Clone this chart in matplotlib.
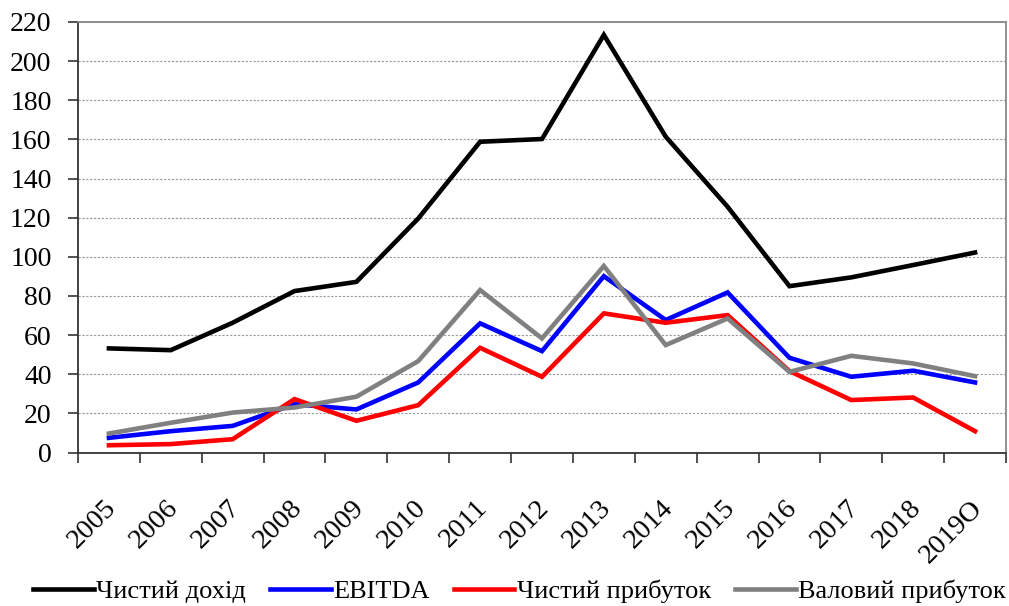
import numpy as np
import matplotlib
matplotlib.use("Agg")
import matplotlib.pyplot as plt
import matplotlib.transforms as mtransforms

years = ["2005", "2006", "2007", "2008", "2009", "2010", "2011", "2012",
         "2013", "2014", "2015", "2016", "2017", "2018", "2019О"]

net_income = [53.2, 52.3, 66.3, 82.5, 87.2, 119.6, 158.8, 160.2,
              213.4, 161.4, 125.6, 85.0, 89.5, 95.8, 102.2]
ebitda = [7.5, 10.9, 13.6, 24.7, 22.0, 35.8, 66.0, 51.8,
          90.1, 67.7, 81.8, 48.4, 38.7, 41.8, 35.8]
net_profit = [3.7, 4.3, 6.8, 27.3, 16.2, 24.2, 53.5, 38.7,
              71.1, 66.3, 70.2, 41.6, 26.8, 28.1, 10.9]
gross_profit = [9.7, 15.2, 20.4, 23.0, 28.5, 46.7, 83.0, 58.3,
                95.3, 54.9, 68.5, 41.2, 49.4, 45.5, 39.0]

labels = ["Чистий дохід", "EBITDA", "Чистий прибуток", "Валовий прибуток"]
colors = ["black", "#0000ff", "#ff0000", "#808080"]

plt.rcParams['font.family'] = ['Liberation Serif', 'DejaVu Serif']

fig = plt.figure(figsize=(10.09, 6.06), dpi=100)
ax = fig.add_axes([0.0773, 0.2533, 0.9197, 0.7104])

x = np.arange(len(years))
for vals, lab, c in zip([net_income, ebitda, net_profit, gross_profit], labels, colors):
    ax.plot(x, vals, color=c, lw=3.3, label=lab, solid_joinstyle='miter')

ax.set_xlim(-0.5, len(years) - 0.5)
ax.set_ylim(0, 220)
ax.set_yticks(np.arange(0, 221, 20))
ax.yaxis.grid(True, linestyle=(0, (2, 1.5)), color='#999999', lw=0.8)
ax.set_axisbelow(True)

# category labels in the middle, tick marks on the boundaries
ax.set_xticks(x)
ax.set_xticklabels(years, rotation=45, ha='right', rotation_mode='anchor')
ax.set_xticks(np.arange(-0.5, len(years), 1), minor=True)
ax.tick_params(axis='x', which='major', length=0, pad=31, labelsize=20.5)
ax.tick_params(axis='x', which='minor', length=7, width=1.2, color='#333333')
ax.tick_params(axis='y', length=7, width=1.2, color='#333333', pad=12, labelsize=20)

shift = mtransforms.ScaledTranslation(-5 / 100, 0, fig.dpi_scale_trans)
for lbl in ax.get_xticklabels():
    lbl.set_transform(lbl.get_transform() + shift)

for s in ['left', 'bottom']:
    ax.spines[s].set_color('#333333')
    ax.spines[s].set_linewidth(1.3)
for s in ['top', 'right']:
    ax.spines[s].set_color('#888888')
    ax.spines[s].set_linewidth(1.3)

fig.legend(loc='center', bbox_to_anchor=(0.515, 0.024), ncol=4, frameon=False,
           fontsize=19, handlelength=2.3, handletextpad=0.1, columnspacing=0.9)

fig.savefig("out.png", dpi=100)
